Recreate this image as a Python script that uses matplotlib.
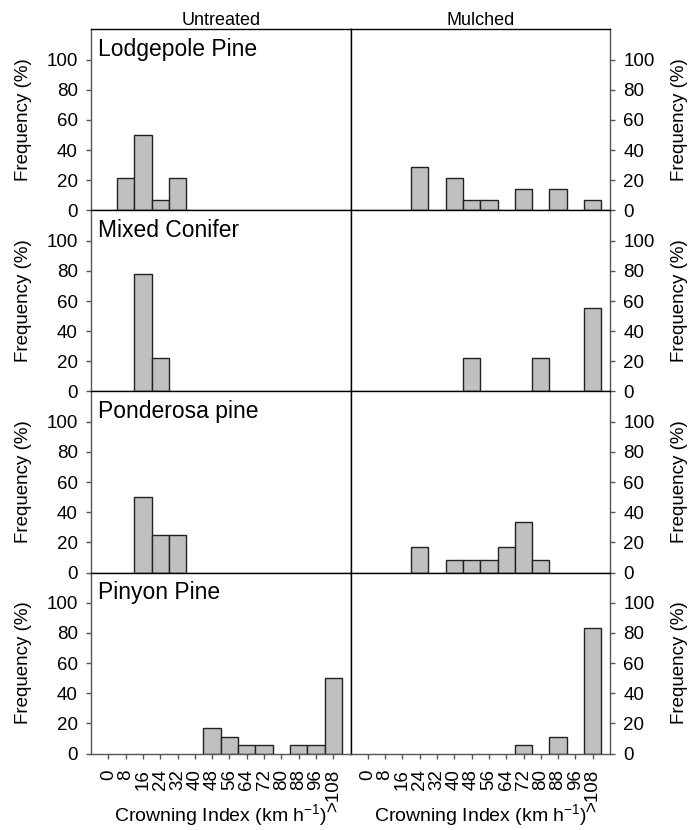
import matplotlib
matplotlib.use("Agg")
import matplotlib.pyplot as plt
import numpy as np

plt.rcParams["font.family"] = ["Liberation Sans", "DejaVu Sans"]
plt.rcParams["mathtext.default"] = "regular"

# crowning index classes (km/h), one bar per class
ci_labels = ["0", "8", "16", "24", "32", "40", "48", "56", "64", "72",
             "80", "88", "96", ">108"]

forest_types = ["Lodgepole Pine", "Mixed Conifer", "Ponderosa pine", "Pinyon Pine"]
treatments = ["Untreated", "Mulched"]

# frequency (%) of plots in each crowning index class
lodgepole_untreated = [0, 21.4, 50.0, 7.1, 21.4, 0, 0, 0, 0, 0, 0, 0, 0, 0]
lodgepole_mulched = [0, 0, 0, 28.6, 0, 21.4, 7.1, 7.1, 0, 14.3, 0, 14.3, 0, 7.1]
mixed_untreated = [0, 0, 77.8, 22.2, 0, 0, 0, 0, 0, 0, 0, 0, 0, 0]
mixed_mulched = [0, 0, 0, 0, 0, 0, 22.2, 0, 0, 0, 22.2, 0, 0, 55.6]
ponderosa_untreated = [0, 0, 50.0, 25.0, 25.0, 0, 0, 0, 0, 0, 0, 0, 0, 0]
ponderosa_mulched = [0, 0, 0, 16.7, 0, 8.3, 8.3, 8.3, 16.7, 33.3, 8.3, 0, 0, 0]
pinyon_untreated = [0, 0, 0, 0, 0, 0, 16.7, 11.1, 5.6, 5.6, 0, 5.6, 5.6, 50.0]
pinyon_mulched = [0, 0, 0, 0, 0, 0, 0, 0, 0, 5.6, 0, 11.1, 0, 83.3]

panels = [
    [lodgepole_untreated, lodgepole_mulched],
    [mixed_untreated, mixed_mulched],
    [ponderosa_untreated, ponderosa_mulched],
    [pinyon_untreated, pinyon_mulched],
]

W, H = 693, 830
fig, axes = plt.subplots(4, 2, figsize=(W / 100, H / 100), dpi=100,
                         sharex=True, sharey=True)
fig.subplots_adjust(left=91 / W, right=610 / W, top=1 - 29.5 / H,
                    bottom=1 - 753.5 / H, hspace=0, wspace=0)

x = np.arange(len(ci_labels))
axis_grey = "#555555"

for r in range(4):
    for c in range(2):
        ax = axes[r, c]
        freq = np.array(panels[r][c], dtype=float)
        keep = freq > 0
        ax.bar(x[keep], freq[keep], width=1.0, color="#c0c0c0",
               edgecolor="#222222", linewidth=1.0, zorder=2)
        ax.set_xlim(-1, 14)
        ax.set_ylim(0, 120)
        ax.set_yticks([0, 20, 40, 60, 80, 100])
        ax.set_xticks(x)

        for side in ["top", "bottom", "left", "right"]:
            ax.spines[side].set_color("black")
            ax.spines[side].set_linewidth(1.0)
        ax.spines["bottom"].set_color(axis_grey)

        if c == 0:
            ax.spines["left"].set_color(axis_grey)
            ax.tick_params(axis="y", which="both", left=True, right=False,
                           labelleft=True, labelright=False, direction="out",
                           length=3.5, width=1, color=axis_grey,
                           labelsize=13.5, pad=6)
        else:
            ax.spines["right"].set_color(axis_grey)
            ax.tick_params(axis="y", which="both", left=False, right=True,
                           labelleft=False, labelright=True, direction="out",
                           length=3.5, width=1, color=axis_grey,
                           labelsize=13.5, pad=6)

        if r == 3:
            ax.tick_params(axis="x", bottom=True, labelbottom=True,
                           direction="out", length=3.5, width=1,
                           color=axis_grey, labelsize=13.5, pad=8)
            ax.set_xticklabels(ci_labels, rotation=90, va="top", ha="center")
            ax.set_xlabel("Crowning Index (km h$^{-1}$)", fontsize=14)
            ax.xaxis.set_label_coords(0.5, -0.27)
        else:
            ax.tick_params(axis="x", bottom=False, labelbottom=False)

        if r == 0:
            ax.set_title(treatments[c], fontsize=13, pad=3)

    axes[r, 0].text(0.026, 0.955, forest_types[r], transform=axes[r, 0].transAxes,
                    ha="left", va="top", fontsize=16.5)

    # row y-axis titles on both outer sides
    yc = 1 - (29.5 + 181 * r + 90.5) / H
    fig.text(24 / W, yc, "Frequency (%)", rotation=90, ha="center",
             va="center", fontsize=13.5)
    fig.text(680 / W, yc, "Frequency (%)", rotation=90, ha="center",
             va="center", fontsize=13.5)

fig.savefig("out.png", dpi=100)
